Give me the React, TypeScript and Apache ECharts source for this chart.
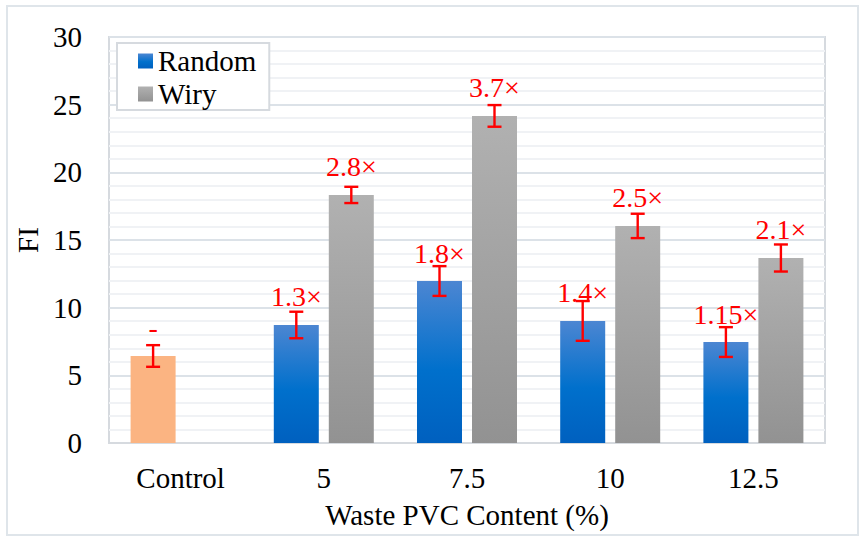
import React, { useEffect, useRef } from "react";
import * as echarts from "echarts";

const categories = ["Control", "5", "7.5", "10", "12.5"];
const controlValue = 6.43;
const controlError = 0.8;
const controlLabel = "-";
const randomValues = [8.72, 11.97, 9.02, 7.46];
const randomErrors = [0.98, 1.1, 1.47, 1.1];
const randomLabels = ["1.3×", "1.8×", "1.4×", "1.15×"];
const wiryValues = [18.33, 24.17, 16.04, 13.67];
const wiryErrors = [0.6, 0.8, 0.9, 1.0];
const wiryLabels = ["2.8×", "3.7×", "2.5×", "2.1×"];
const yTicks = { min: 0, max: 30, interval: 5 };

const FONT = "Liberation Serif";
const BAR_WIDTH = 45;
const BAR_GAP_PX = 10;

export default function App() {
  const ref = useRef<HTMLDivElement>(null);

  useEffect(() => {
    if (!ref.current) return;
    const chart = echarts.init(ref.current, undefined, { renderer: "svg" });

    const blueGrad = {
      type: "linear", x: 0, y: 0, x2: 0, y2: 1,
      colorStops: [
        { offset: 0, color: "#4c86d2" },
        { offset: 0.55, color: "#0070cc" },
        { offset: 1, color: "#0060bf" },
      ],
    };
    const grayGrad = {
      type: "linear", x: 0, y: 0, x2: 0, y2: 1,
      colorStops: [
        { offset: 0, color: "#b1b1b1" },
        { offset: 1, color: "#929292" },
      ],
    };

    const randomData: any[] = [
      { value: controlValue, itemStyle: { color: "#fbb482" } },
      ...randomValues.map((v) => ({ value: v })),
    ];
    const randomLabelTexts = [controlLabel, ...randomLabels];
    const wiryData: any[] = ["-", ...wiryValues];
    const wiryLabelTexts = ["", ...wiryLabels];

    const errData: any[] = [];
    errData.push([0, controlValue - controlError, controlValue + controlError, -1]);
    randomValues.forEach((v, i) =>
      errData.push([i + 1, v - randomErrors[i], v + randomErrors[i], -1])
    );
    wiryValues.forEach((v, i) =>
      errData.push([i + 1, v - wiryErrors[i], v + wiryErrors[i], 1])
    );

    const labelStyle = {
      show: true,
      position: "top",
      distance: 14,
      color: "#ff0000",
      fontFamily: FONT,
      fontSize: 28,
    };

    chart.setOption({
      animation: false,
      backgroundColor: "#ffffff",
      textStyle: { fontFamily: FONT },
      graphic: [
        {
          type: "rect",
          shape: { x: 7, y: 6, width: 851, height: 529 },
          style: { fill: "none", stroke: "#dfe5ea", lineWidth: 2 },
          silent: true,
          z: -10,
        },
      ],
      grid: {
        left: 109,
        top: 37,
        width: 716,
        height: 406,
        show: true,
        borderColor: "#d6dadf",
        borderWidth: 2,
        backgroundColor: "transparent",
      },
      legend: {
        left: 117,
        top: 43,
        orient: "vertical",
        backgroundColor: "#ffffff",
        borderColor: "#d6dadf",
        borderWidth: 2,
        padding: [3, 13, 1, 21],
        itemWidth: 15,
        itemHeight: 15,
        itemGap: 3,
        icon: "rect",
        textStyle: { fontFamily: FONT, fontSize: 29, lineHeight: 30, color: "#000" },
        data: ["Random", "Wiry"],
      },
      xAxis: {
        type: "category",
        data: categories,
        axisLine: { show: true, lineStyle: { color: "#d6dadf", width: 2 } },
        axisTick: { show: false },
        axisLabel: { fontFamily: FONT, fontSize: 29, color: "#000", margin: 20 },
        name: "Waste PVC Content (%)",
        nameLocation: "middle",
        nameGap: 57,
        nameTextStyle: { fontFamily: FONT, fontSize: 29, color: "#000" },
      },
      yAxis: {
        type: "value",
        min: yTicks.min,
        max: yTicks.max,
        interval: yTicks.interval,
        axisLine: { show: false },
        axisTick: { show: false },
        axisLabel: { fontFamily: FONT, fontSize: 29, color: "#000", margin: 27 },
        splitLine: { show: true, lineStyle: { color: "#dce2e8", width: 2 } },
        minorTick: { show: false, splitNumber: 5 },
        minorSplitLine: { show: true, lineStyle: { color: "#f0f2f5", width: 2 } },
        name: "FI",
        nameLocation: "middle",
        nameGap: 59,
        nameTextStyle: { fontFamily: FONT, fontSize: 29, color: "#000" },
      },
      series: [
        {
          name: "Random",
          type: "bar",
          barWidth: BAR_WIDTH,
          barGap: (BAR_GAP_PX / BAR_WIDTH) * 100 + "%",
          itemStyle: { color: blueGrad },
          data: randomData,
          label: {
            ...labelStyle,
            formatter: (p: any) => randomLabelTexts[p.dataIndex],
          },
          z: 2,
        },
        {
          name: "Wiry",
          type: "bar",
          barWidth: BAR_WIDTH,
          itemStyle: { color: grayGrad },
          data: wiryData,
          label: {
            ...labelStyle,
            formatter: (p: any) => wiryLabelTexts[p.dataIndex],
          },
          z: 2,
        },
        {
          type: "custom",
          name: "err",
          encode: { x: 0, y: [1, 2] },
          data: errData,
          z: 5,
          silent: true,
          renderItem: (params: any, api: any) => {
            const cat = api.value(0);
            const low = api.value(1);
            const high = api.value(2);
            const slot = api.value(3);
            const dx = (slot * (BAR_WIDTH + BAR_GAP_PX)) / 2;
            const pTop = api.coord([cat, high]);
            const pBot = api.coord([cat, low]);
            const x = pTop[0] + dx;
            const cap = 7;
            const style = { stroke: "#ff0000", lineWidth: 2.4 };
            return {
              type: "group",
              children: [
                { type: "line", shape: { x1: x, y1: pTop[1], x2: x, y2: pBot[1] }, style },
                { type: "line", shape: { x1: x - cap, y1: pTop[1], x2: x + cap, y2: pTop[1] }, style },
                { type: "line", shape: { x1: x - cap, y1: pBot[1], x2: x + cap, y2: pBot[1] }, style },
              ],
            };
          },
        },
      ],
    });

    return () => chart.dispose();
  }, []);

  return (
    <div
      ref={ref}
      style={{ position: "fixed", left: 0, top: 0, width: 864, height: 542 }}
    />
  );
}
